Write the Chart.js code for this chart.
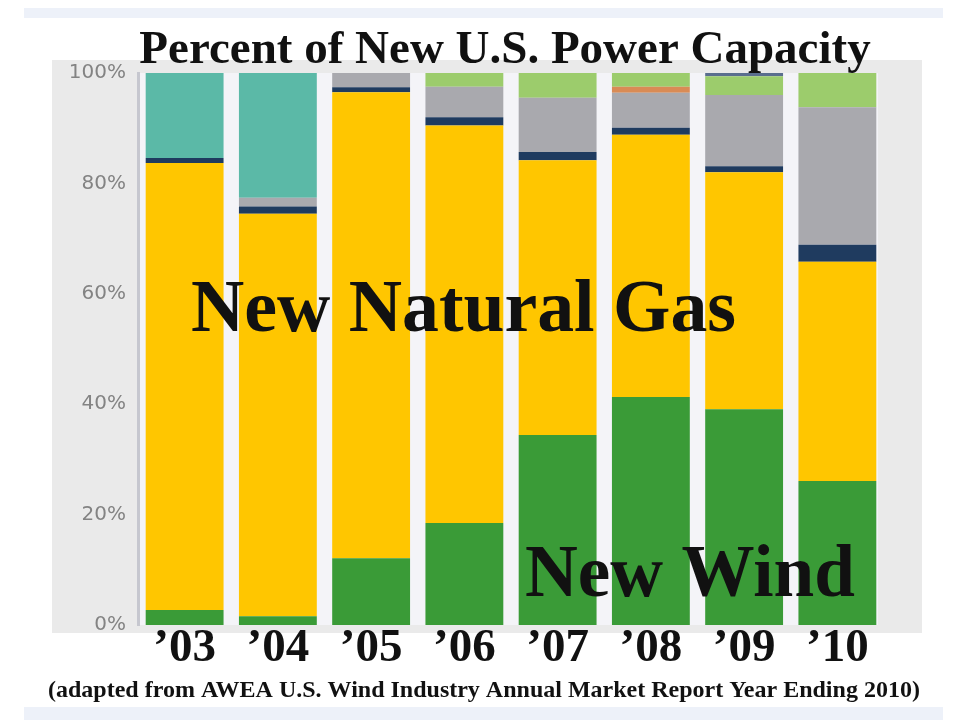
<!DOCTYPE html>
<html>
<head>
<meta charset="utf-8">
<script src="https://cdn.jsdelivr.net/npm/chart.js@4.4.1/dist/chart.umd.min.js"></script>
<style>
  html, body { margin: 0; padding: 0; background: #ffffff; }
  #wrap { width: 960px; height: 720px; position: relative; }
</style>
</head>
<body>
<div id="wrap"><canvas id="c" width="960" height="720"></canvas></div>
<script>
// ---- data (percent of new U.S. power capacity) ----
const categories = ["\u201903", "\u201904", "\u201905", "\u201906", "\u201907", "\u201908", "\u201909", "\u201910"];
const wind       = [2.7, 1.6, 12.1, 18.5, 34.4, 41.3, 39.1, 26.1];
const naturalGas = [81.0, 72.9, 84.4, 72.0, 49.8, 47.5, 42.9, 39.7];
const darkBand   = [0.9, 1.3, 0.9, 1.5, 1.5, 1.3, 1.1, 3.1];
const grayBand   = [0, 1.6, 2.6, 5.5, 9.8, 6.3, 12.9, 24.9];
const orangeBand = [0, 0, 0, 0, 0, 1.1, 0, 0];
const lightGreen = [0, 0, 0, 2.5, 4.5, 2.5, 3.4, 6.2];
const tealBand   = [15.4, 22.6, 0, 0, 0, 0, 0, 0];
const topBand    = [0, 0, 0, 0, 0, 0, 0.6, 0];
const yTicks     = [0, 20, 40, 60, 80, 100];

const titleText = "Percent of New U.S. Power Capacity";
const gasLabel = "New Natural Gas";
const windLabel = "New Wind";
const footText = "(adapted from AWEA U.S. Wind Industry Annual Market Report Year Ending 2010)";

const serif = '"Liberation Serif", "Times New Roman", serif';

const decor = {
  id: 'decor',
  beforeDraw(chart) {
    const ctx = chart.ctx;
    const a = chart.chartArea;
    ctx.save();
    ctx.fillStyle = '#ffffff';
    ctx.fillRect(0, 0, 960, 720);
    ctx.fillStyle = '#edf1f9';
    ctx.fillRect(24, 8, 919, 10);
    ctx.fillRect(24, 707, 919, 13);
    ctx.fillStyle = '#eaeaea';
    ctx.fillRect(52, 60, 870, 573);
    ctx.fillStyle = '#f4f4f8';
    ctx.fillRect(a.left, a.top, a.right - a.left - 6, a.bottom - a.top);
    ctx.restore();
  },
  afterDraw(chart) {
    const ctx = chart.ctx;
    ctx.save();
    ctx.fillStyle = '#111111';
    ctx.textBaseline = 'alphabetic';
    ctx.textAlign = 'center';
    ctx.font = 'bold 47px ' + serif;
    ctx.fillText(titleText, 505, 63, 740);
    ctx.textAlign = 'left';
    ctx.font = 'bold 74px ' + serif;
    ctx.fillText(gasLabel, 191, 331, 545);
    ctx.fillText(windLabel, 525, 596, 330);
    ctx.font = 'bold 24px ' + serif;
    ctx.fillText(footText, 48, 697, 872);
    ctx.restore();
  }
};

function ds(label, data, color) {
  return { label, data, backgroundColor: color, borderWidth: 0,
           barPercentage: 0.835, categoryPercentage: 1.0 };
}

new Chart(document.getElementById('c'), {
  type: 'bar',
  data: {
    labels: categories,
    datasets: [
      ds('Wind', wind, '#3a9b37'),
      ds('Natural Gas', naturalGas, '#ffc600'),
      ds('Other', darkBand, '#1f3b5f'),
      ds('Coal', grayBand, '#a9a9ae'),
      ds('Other (orange)', orangeBand, '#d98b55'),
      ds('Solar', lightGreen, '#9ccc6c'),
      ds('Other Non-Renewable', tealBand, '#5bb9a7'),
      ds('Other (top)', topBand, '#5a6e8e')
    ]
  },
  options: {
    responsive: false,
    animation: false,
    devicePixelRatio: 1,
    layout: { padding: { left: 52, right: 76, top: 73, bottom: 35 } },
    plugins: { legend: { display: false }, tooltip: { enabled: false }, title: { display: false } },
    scales: {
      x: {
        stacked: true,
        grid: { display: false, drawTicks: false },
        border: { display: false },
        afterFit(scale) { scale.height = 60; },
        ticks: {
          color: '#111111', padding: 0, maxRotation: 0, autoSkip: false,
          font: { family: serif, weight: 'bold', size: 47, lineHeight: 1 }
        }
      },
      y: {
        stacked: true,
        min: 0, max: 100,
        grid: { display: false, drawTicks: false },
        border: { display: true, color: '#c6c7cf', width: 3 },
        afterFit(scale) { scale.width = 86; },
        afterBuildTicks(scale) { scale.ticks = yTicks.map(v => ({ value: v })); },
        ticks: {
          color: '#838383', padding: 12,
          font: { family: '"DejaVu Sans", sans-serif', size: 20 },
          callback: (v) => v + '%'
        }
      }
    }
  },
  plugins: [decor]
});
</script>
</body>
</html>
